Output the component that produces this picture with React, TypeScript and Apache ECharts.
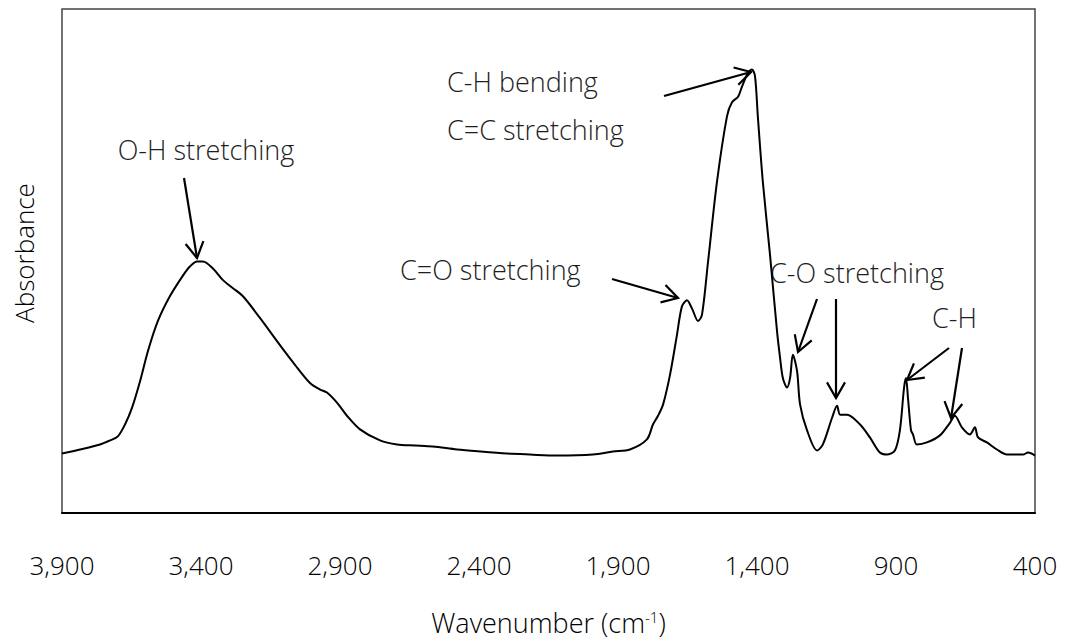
import React, { useEffect, useRef } from "react";
import * as echarts from "echarts";

// Wavenumber (cm-1) and absorbance (arbitrary units, 0-100 scale)
const wavenumbers = [
  3900, 3835, 3763, 3727, 3699, 3673, 3648, 3619, 3591, 3555, 3512, 3465, 3440, 3414, 3393,
  3357, 3321, 3285, 3249, 3188, 3116, 3062, 3008, 2972, 2947, 2911, 2875, 2828, 2756, 2695,
  2630, 2566, 2479, 2396, 2299, 2217, 2119, 1990, 1918, 1857, 1796, 1774, 1756, 1738, 1713,
  1688, 1670, 1652, 1634, 1612, 1598, 1576, 1544, 1508, 1490, 1468, 1454, 1432, 1418, 1407,
  1397, 1379, 1353, 1328, 1317, 1307, 1292, 1281, 1271, 1256, 1245, 1220, 1184, 1163, 1130,
  1112, 1101, 1076, 1030, 994, 958, 933, 904, 886, 871, 864, 857, 846, 839, 825,
  789, 742, 706, 688, 663, 634, 616, 605, 573, 537, 501, 443, 425, 400,
];
const absorbance = [
  11.8, 12.6, 13.6, 14.4, 15.2, 17.6, 20.9, 26.2, 32.1, 38.1, 43.0, 47.1, 48.9, 49.9, 49.9,
  48.5, 46.2, 44.6, 43.0, 38.7, 33.3, 29.4, 25.8, 24.5, 23.9, 21.9, 19.3, 16.6, 14.4, 13.6,
  13.4, 13.2, 12.6, 12.2, 11.8, 11.6, 11.4, 11.6, 12.2, 12.6, 14.6, 17.6, 19.3, 21.5, 27.4,
  35.3, 41.0, 42.2, 40.6, 38.1, 39.3, 49.9, 65.7, 78.7, 81.5, 82.6, 84.6, 87.4, 88.0, 86.6,
  78.7, 65.7, 51.1, 36.1, 30.8, 26.8, 24.9, 26.8, 31.4, 28.2, 21.5, 16.4, 12.4, 13.6, 18.9,
  21.3, 19.5, 19.5, 17.6, 15.0, 12.0, 11.6, 12.4, 16.4, 24.9, 26.8, 22.9, 16.4, 15.6, 13.6,
  14.0, 15.4, 17.9, 19.3, 17.0, 15.6, 17.0, 15.0, 14.0, 12.6, 11.6, 11.6, 12.0, 11.4,
];
const xMin = 400;
const xMax = 3900;
const xInterval = 500;

const annotationLabels = [
  "O-H stretching",
  "C-H bending",
  "C=C stretching",
  "C=O stretching",
  "C-O stretching",
  "C-H",
];

const FONT = "'Open Sans', 'Noto Sans', sans-serif";
const TEXT_COLOR = "#1e1e1e";

function arrow(x1: number, y1: number, x2: number, y2: number) {
  const dx = x2 - x1;
  const dy = y2 - y1;
  const len = Math.sqrt(dx * dx + dy * dy);
  const ux = dx / len;
  const uy = dy / len;
  const L = 18;
  const a = (30 * Math.PI) / 180;
  const rot = (ang: number) => {
    const bx = -ux;
    const by = -uy;
    return [
      x2 + L * (bx * Math.cos(ang) - by * Math.sin(ang)),
      y2 + L * (bx * Math.sin(ang) + by * Math.cos(ang)),
    ];
  };
  const w1 = rot(a);
  const w2 = rot(-a);
  const stroke = { stroke: "#000", lineWidth: 2.2 };
  return {
    type: "group",
    children: [
      { type: "line", shape: { x1, y1, x2, y2 }, style: stroke },
      {
        type: "polyline",
        shape: { points: [w1, [x2, y2], w2] },
        style: { ...stroke, fill: "none" },
      },
    ],
  };
}

function label(text: string, x: number, y: number, align: string) {
  return {
    type: "text",
    x,
    y,
    style: {
      text,
      fill: TEXT_COLOR,
      font: `300 27px ${FONT}`,
      align,
      verticalAlign: "middle",
    },
  };
}

export default function App() {
  const ref = useRef<HTMLDivElement>(null);
  useEffect(() => {
    if (!ref.current) return;
    const chart = echarts.init(ref.current, undefined, { renderer: "svg" });
    const data = wavenumbers.map((w, i) => [w, absorbance[i]]);
    chart.setOption({
      animation: false,
      backgroundColor: "#fff",
      grid: {
        left: 62,
        right: 34,
        top: 9,
        bottom: 126,
        show: true,
        borderColor: "#444",
        borderWidth: 1.5,
      },
      xAxis: {
        type: "value",
        min: xMin,
        max: xMax,
        interval: xInterval,
        inverse: true,
        axisLine: { show: true, lineStyle: { color: "#000", width: 2 } },
        axisTick: { show: false },
        splitLine: { show: false },
        axisLabel: {
          margin: 39,
          color: "#000",
          fontFamily: FONT,
          fontWeight: 300,
          fontSize: 26,
          formatter: (v: number) => v.toLocaleString("en-US"),
        },
        name: "{a|Wavenumber (cm}{s|-1}{a|)}",
        nameLocation: "middle",
        nameGap: 96,
        nameTextStyle: {
          rich: {
            a: { fontFamily: FONT, fontWeight: 300, fontSize: 27, color: "#000" },
            s: { fontFamily: FONT, fontWeight: 300, fontSize: 15, color: "#000", verticalAlign: "top", padding: [0, 0, 12, 0] },
          },
        },
      },
      yAxis: {
        type: "value",
        min: 0,
        max: 100,
        axisLine: { show: false },
        axisTick: { show: false },
        axisLabel: { show: false },
        splitLine: { show: false },
      },
      series: [
        {
          type: "line",
          data,
          showSymbol: false,
          smooth: 0.3,
          lineStyle: { color: "#000", width: 2 },
        },
      ],
      graphic: [
        {
          type: "text",
          x: 24,
          y: 253,
          rotation: Math.PI / 2,
          style: {
            text: "Absorbance",
            fill: "#000",
            font: `300 26px ${FONT}`,
            align: "center",
            verticalAlign: "middle",
          },
        },
        label(annotationLabels[0], 206, 149, "center"),
        label(annotationLabels[1], 447, 81, "left"),
        label(annotationLabels[2], 447, 129, "left"),
        label(annotationLabels[3], 400, 269, "left"),
        label(annotationLabels[4], 770, 272, "left"),
        label(annotationLabels[5], 932, 317, "left"),
        arrow(184, 178, 197, 258),
        arrow(664, 96, 751, 72),
        arrow(612, 279, 678, 298),
        arrow(817, 299, 798, 352),
        arrow(836, 299, 836, 398),
        arrow(949, 348, 907, 380),
        arrow(962, 348, 951, 418),
      ],
    });
    return () => chart.dispose();
  }, []);
  return (
    <div
      ref={ref}
      style={{ position: "fixed", left: 0, top: 0, width: 1069, height: 641 }}
    />
  );
}
